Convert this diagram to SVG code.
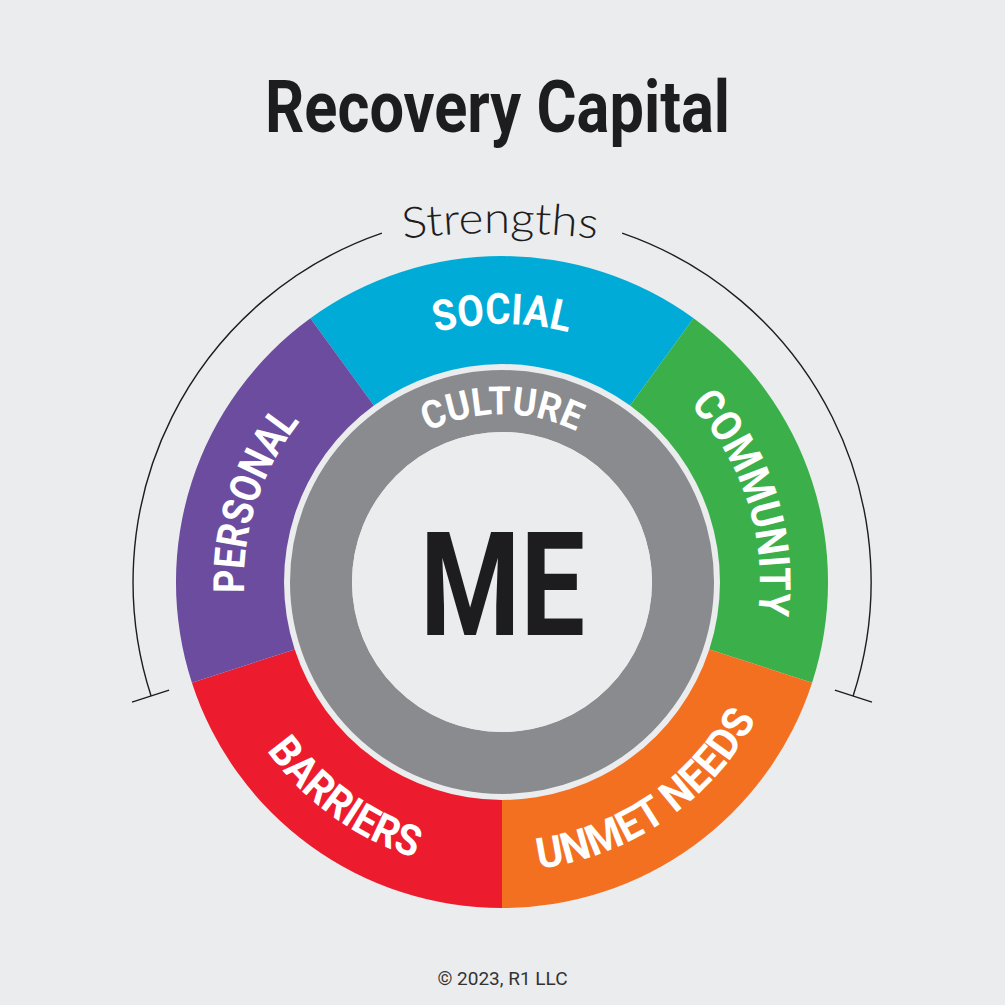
<svg xmlns="http://www.w3.org/2000/svg" width="1005" height="1005" viewBox="0 0 1005 1005">
  <style>
    .seg-label { font-family: Roboto, "Liberation Sans", sans-serif; font-weight: 700; font-size: 43px; fill: #ffffff; }
    .culture { font-family: Roboto, "Liberation Sans", sans-serif; font-weight: 700; font-size: 39px; fill: #ffffff; }
    .title { font-family: Roboto, "Liberation Sans", sans-serif; font-weight: 700; font-size: 72px; fill: #1d1d1f; }
    .me { font-family: Roboto, "Liberation Sans", sans-serif; font-weight: 700; font-size: 145px; fill: #1d1d1f; }
    .strengths { font-family: Lato, "Open Sans", sans-serif; font-weight: 300; font-size: 43px; fill: #1d1d1f; }
    .copy { font-family: Roboto, "Liberation Sans", sans-serif; font-weight: 400; font-size: 19px; fill: #333333; }
    .bracket { fill: none; stroke: #1d1d1f; stroke-width: 1.4; }
  </style>
  <defs>
    <path id="p-social" d="M247.9,537.2 A258,258 0 0 1 756.1,537.2"/>
    <path id="p-community" d="M466.1,326.5 A258,258 0 0 1 623.1,809.8"/>
    <path id="p-personal" d="M380.9,809.8 A258,258 0 0 1 537.9,326.5"/>
    <path id="p-culture" d="M336.6,552.8 A168,168 0 0 1 667.4,552.8"/>
    <path id="p-barriers" d="M242.2,455.3 A289,289 0 0 0 702.8,789.9"/>
    <path id="p-unmet" d="M295.9,784.6 A289,289 0 0 0 765.0,462.2"/>
    <path id="p-strengths" d="M380,242 A800,800 0 0 1 620,242"/>
  </defs>

  <rect x="0" y="0" width="1005" height="1005" fill="#ebeced"/>

  <text class="title" x="497.5" y="132" text-anchor="middle" textLength="465" lengthAdjust="spacingAndGlyphs">Recovery Capital</text>

  <g id="strengths-bracket">
    <path class="bracket" d="M151.1,696 A369,369 0 0 1 381.9,233.1"/>
    <path class="bracket" d="M622.1,233.1 A369,369 0 0 1 853.1,696"/>
    <line class="bracket" x1="169.1" y1="690.2" x2="132" y2="702.2"/>
    <line class="bracket" x1="834.9" y1="690.2" x2="872" y2="702.2"/>
    <text class="strengths"><textPath href="#p-strengths" startOffset="50%" text-anchor="middle" textLength="194" lengthAdjust="spacingAndGlyphs">Strengths</textPath></text>
  </g>

  <g id="social">
    <path d="M310.4,318.3 A326,326 0 0 1 693.6,318.3 L630.1,405.6 A218,218 0 0 0 373.9,405.6 Z" fill="#00acd7"/>
    <text class="seg-label"><textPath href="#p-social" startOffset="50%" text-anchor="middle" textLength="134" lengthAdjust="spacingAndGlyphs">SOCIAL</textPath></text>
  </g>
  <g id="community">
    <path d="M693.6,318.3 A326,326 0 0 1 812.1,682.7 L709.3,649.4 A218,218 0 0 0 630.1,405.6 Z" fill="#3bb04a"/>
    <text class="seg-label"><textPath href="#p-community" startOffset="50%" text-anchor="middle" textLength="228" lengthAdjust="spacingAndGlyphs">COMMUNITY</textPath></text>
  </g>
  <g id="unmet-needs">
    <path d="M812.1,682.7 A326,326 0 0 1 502,908 L502,800 A218,218 0 0 0 709.3,649.4 Z" fill="#f37021"/>
    <text class="seg-label"><textPath href="#p-unmet" startOffset="50%" text-anchor="middle" textLength="274" lengthAdjust="spacingAndGlyphs">UNMET NEEDS</textPath></text>
  </g>
  <g id="barriers">
    <path d="M502,908 A326,326 0 0 1 191.9,682.7 L294.7,649.4 A218,218 0 0 0 502,800 Z" fill="#ec1c2e"/>
    <text class="seg-label"><textPath href="#p-barriers" startOffset="50%" text-anchor="middle" textLength="186" lengthAdjust="spacingAndGlyphs">BARRIERS</textPath></text>
  </g>
  <g id="personal">
    <path d="M191.9,682.7 A326,326 0 0 1 310.4,318.3 L373.9,405.6 A218,218 0 0 0 294.7,649.4 Z" fill="#6c4c9e"/>
    <text class="seg-label"><textPath href="#p-personal" startOffset="50%" text-anchor="middle" textLength="184" lengthAdjust="spacingAndGlyphs">PERSONAL</textPath></text>
  </g>

  <g id="culture">
    <circle cx="502" cy="582" r="181" fill="none" stroke="#8a8b8e" stroke-width="62"/>
    <text class="culture"><textPath href="#p-culture" startOffset="50%" text-anchor="middle" textLength="154" lengthAdjust="spacingAndGlyphs">CULTURE</textPath></text>
  </g>

  <g id="me">
    <circle cx="502" cy="582" r="150" fill="#ebeced"/>
    <text class="me" x="502.5" y="635" text-anchor="middle" textLength="165" lengthAdjust="spacingAndGlyphs">ME</text>
  </g>

  <text class="copy" x="502.5" y="985" text-anchor="middle">© 2023, R1 LLC</text>
</svg>
